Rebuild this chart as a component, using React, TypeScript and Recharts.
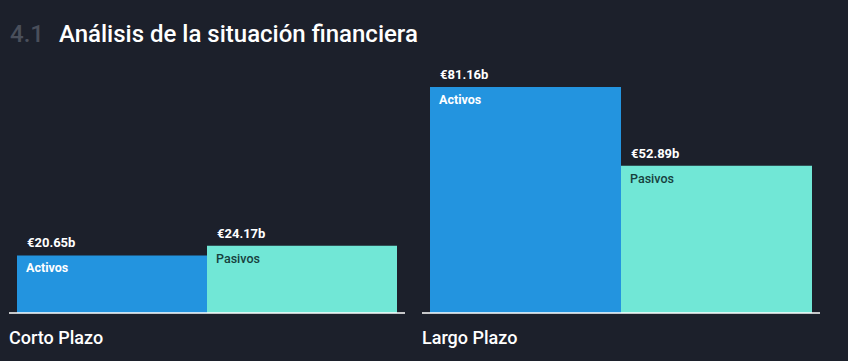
import { BarChart, Bar, XAxis, YAxis, LabelList } from 'recharts'

const categories = ['Corto Plazo', 'Largo Plazo']
const activos = [20.65, 81.16]
const pasivos = [24.17, 52.89]
const seriesNames = { activos: 'Activos', pasivos: 'Pasivos' }

const BG = '#1c202b'
const BLUE = '#2394df'
const TEAL = '#71e7d6'
const FONT = 'Roboto, "Noto Sans", sans-serif'

if (typeof document !== 'undefined') {
  document.body.style.margin = '0'
  document.body.style.background = BG
}

const yMax = Math.max(...activos, ...pasivos)

const fmt = (v: number) => `€${v.toFixed(2)}b`

function makeLabel(name: string, nameColor: string) {
  return (props: any) => {
    const { x, y, value } = props
    return (
      <g>
        <text
          x={x + 10}
          y={y - 8}
          fill="#ffffff"
          fontSize={13}
          fontWeight={700}
          fontFamily={FONT}
        >
          {fmt(value)}
        </text>
        <text
          x={x + 9}
          y={y + 17}
          fill={nameColor}
          fontSize={12.5}
          fontWeight={name === 'Activos' ? 700 : 500}
          fontFamily={FONT}
        >
          {name}
        </text>
      </g>
    )
  }
}

const CategoryTick = (props: any) => {
  const { x, y, width, payload } = props
  return (
    <text
      x={x - width / 2}
      y={y + 23}
      fill="#ffffff"
      fontSize={18}
      fontWeight={500}
      fontFamily={FONT}
    >
      {payload.value}
    </text>
  )
}

function Panel({ index }: { index: number }) {
  const data = [
    { name: categories[index], activos: activos[index], pasivos: pasivos[index] },
  ]
  return (
    <BarChart
      width={index === 0 ? 413 : 415}
      height={361}
      data={data}
      margin={{ top: 87, right: 8, bottom: 8, left: 9 }}
      barCategoryGap={8}
      barGap={0}
    >
      <XAxis
        dataKey="name"
        axisLine={{ stroke: '#ffffff', strokeWidth: 1.5 }}
        tickLine={false}
        tick={<CategoryTick />}
        height={40}
        interval={0}
      />
      <YAxis hide domain={[0, yMax]} />
      <Bar dataKey="activos" fill={BLUE} isAnimationActive={false}>
        <LabelList dataKey="activos" content={makeLabel(seriesNames.activos, '#ffffff')} />
      </Bar>
      <Bar dataKey="pasivos" fill={TEAL} isAnimationActive={false}>
        <LabelList dataKey="pasivos" content={makeLabel(seriesNames.pasivos, '#17403d')} />
      </Bar>
    </BarChart>
  )
}

export default function App() {
  return (
    <div
      style={{
        position: 'relative',
        width: 848,
        height: 361,
        background: BG,
        fontFamily: FONT,
        overflow: 'hidden',
      }}
    >
      <div
        style={{
          position: 'absolute',
          left: 10,
          top: 20,
          fontSize: 24,
          fontWeight: 500,
          color: '#ffffff',
          whiteSpace: 'nowrap',
        }}
      >
        <span style={{ color: '#4a4f5b', marginRight: 15 }}>4.1</span>
        Análisis de la situación financiera
      </div>
      <div style={{ position: 'absolute', left: 0, top: 0, display: 'flex' }}>
        <Panel index={0} />
        <Panel index={1} />
      </div>
    </div>
  )
}
